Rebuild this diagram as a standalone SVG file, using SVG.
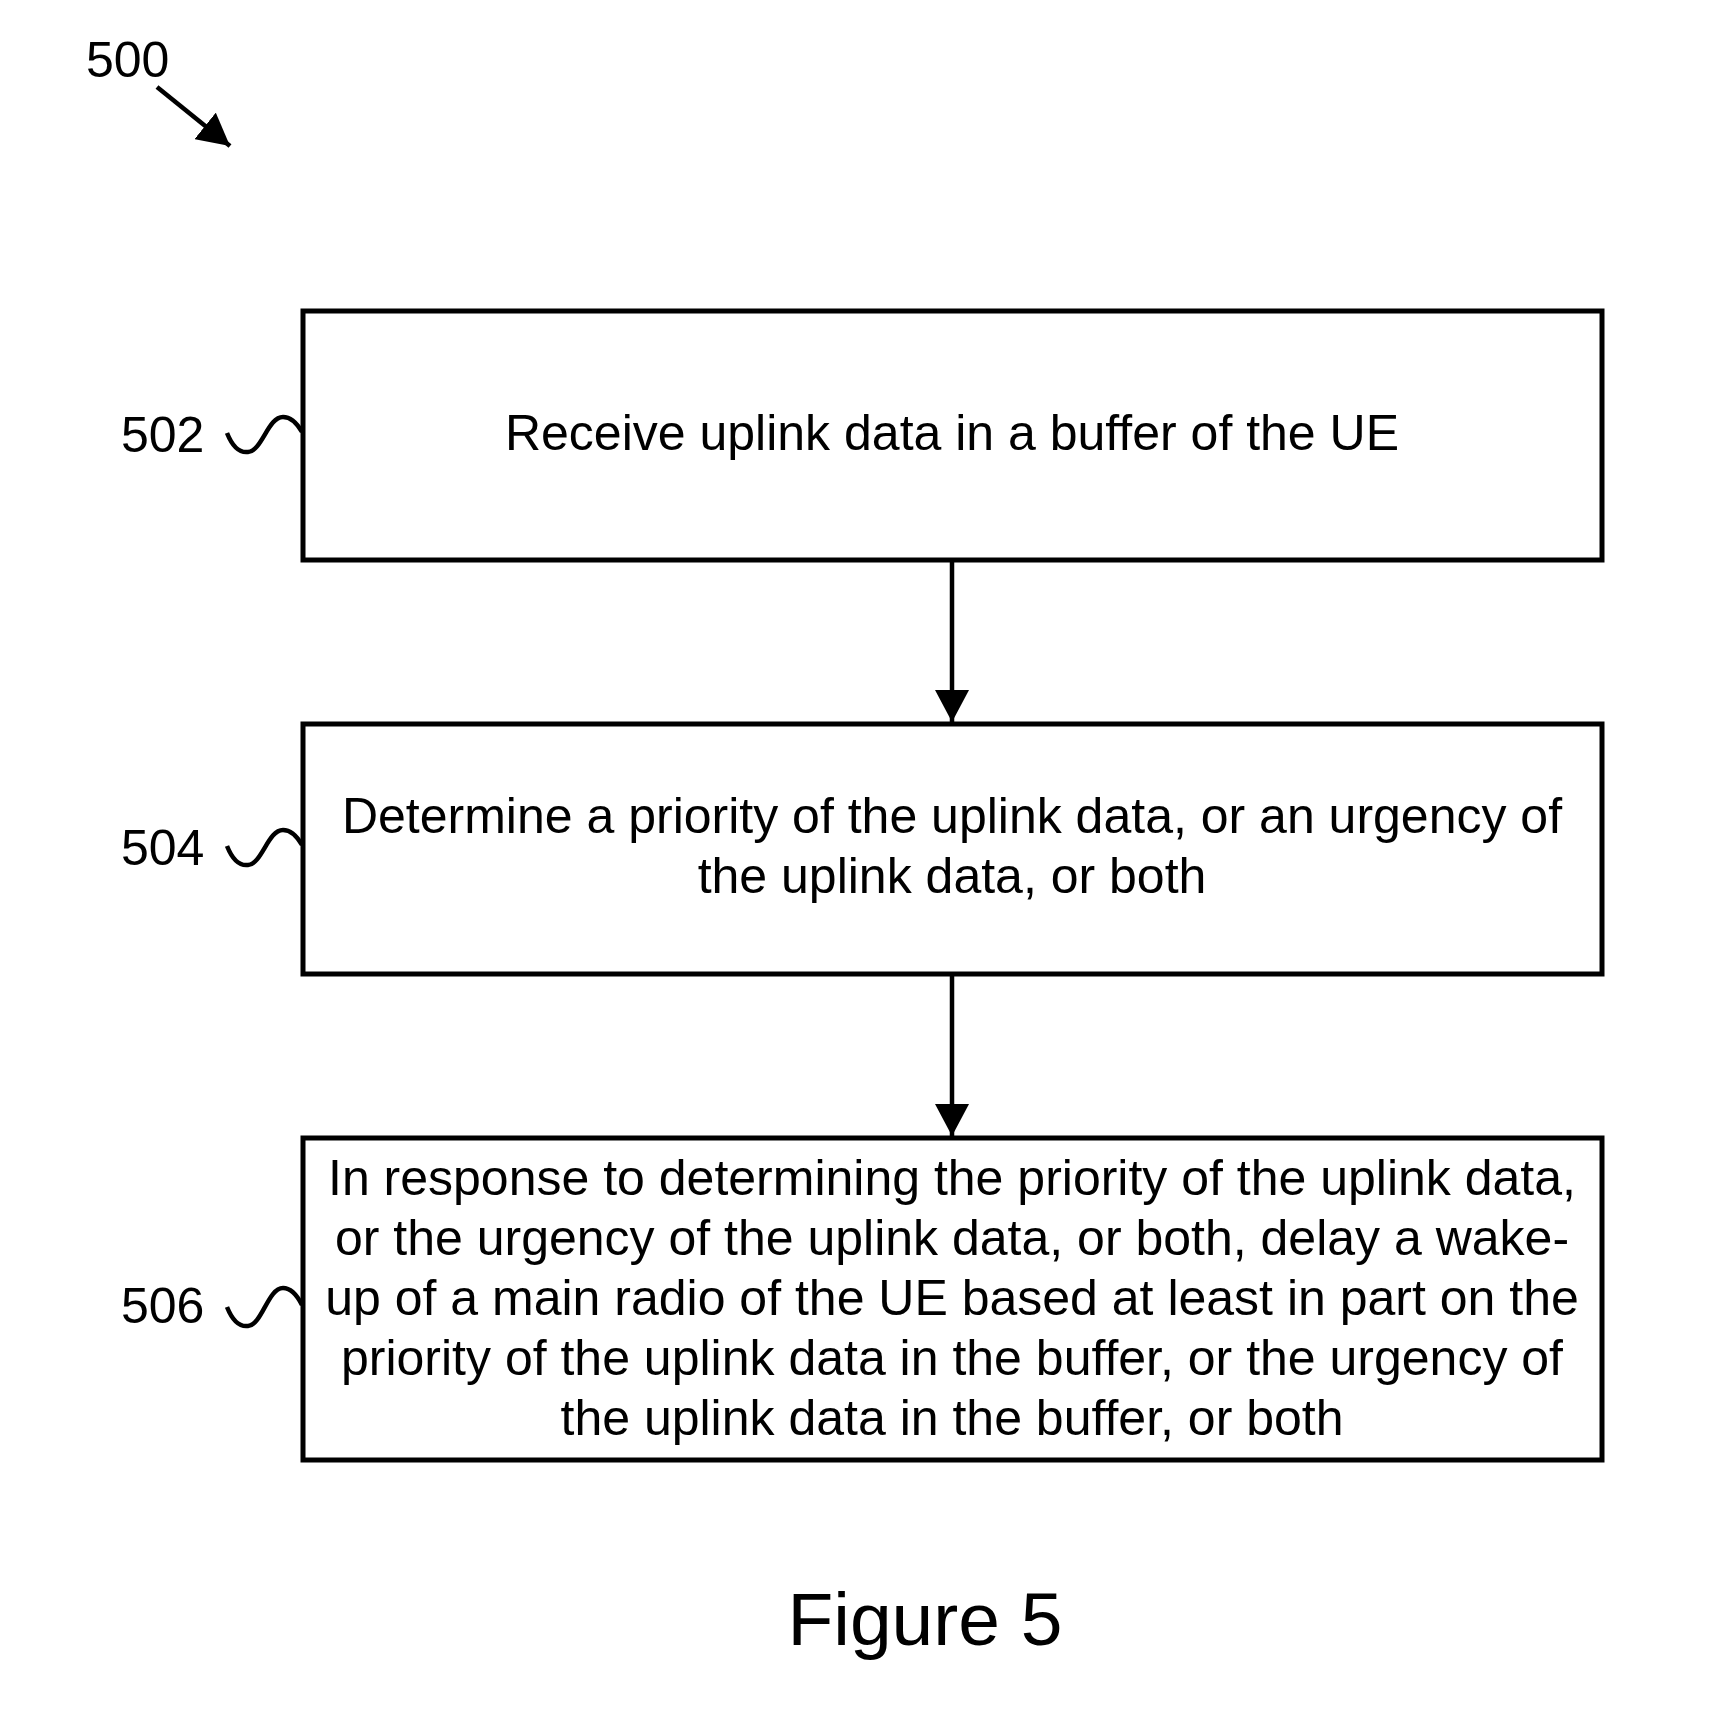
<svg xmlns="http://www.w3.org/2000/svg" width="1713" height="1722" viewBox="0 0 1713 1722">
<defs>
<style>
.box{fill:#fff;stroke:#000;stroke-width:5}
.t{font-family:"Liberation Sans",Arial,sans-serif;font-size:50px;fill:#000;text-anchor:middle}
.lbl{font-family:"Liberation Sans",Arial,sans-serif;font-size:50px;fill:#000}
.sq{fill:none;stroke:#000;stroke-width:4.5}
.ln{fill:none;stroke:#000;stroke-width:4.5}
</style>
<marker id="ah" markerUnits="userSpaceOnUse" markerWidth="34" markerHeight="34" refX="32" refY="17" orient="auto" viewBox="0 0 34 34">
<path d="M0,0 L32,17 L0,34 Z" fill="#000"/>
</marker>
</defs>
<rect width="1713" height="1722" fill="#fff"/>
<g id="ref500">
<text class="lbl" x="86" y="77" font-size="49">500</text>
<path class="ln" d="M157,87 L230,146" stroke-width="5" marker-end="url(#ah)"/>
</g>
<g id="n502">
<rect class="box" x="303" y="311" width="1299" height="249"/>
<text class="t" x="952" y="450">Receive uplink data in a buffer of the UE</text>
<text class="lbl" x="121" y="452">502</text>
<path class="sq" d="M227,433 C233,448 240,453 248,452 C262,451 268,417 283,417 C292,417 298,425 302,432"/>
</g>
<g id="n504">
<rect class="box" x="303" y="724" width="1299" height="250"/>
<text class="t" x="952" y="833">Determine a priority of the uplink data, or an urgency of</text>
<text class="t" x="952" y="893">the uplink data, or both</text>
<text class="lbl" x="121" y="865">504</text>
<path class="sq" d="M227,846 C233,861 240,866 248,865 C262,864 268,830 283,830 C292,830 298,838 302,845"/>
</g>
<g id="n506">
<rect class="box" x="303" y="1138" width="1299" height="322"/>
<text class="t" x="952" y="1195">In response to determining the priority of the uplink data,</text>
<text class="t" x="952" y="1255">or the urgency of the uplink data, or both, delay a wake-</text>
<text class="t" x="952" y="1315">up of a main radio of the UE based at least in part on the</text>
<text class="t" x="952" y="1375">priority of the uplink data in the buffer, or the urgency of</text>
<text class="t" x="952" y="1435">the uplink data in the buffer, or both</text>
<text class="lbl" x="121" y="1323">506</text>
<path class="sq" d="M227,1307 C233,1322 240,1327 248,1326 C262,1325 268,1288 283,1288 C292,1288 298,1297 302,1305"/>
</g>
<g id="connectors">
<path class="ln" d="M952,560 L952,722" marker-end="url(#ah)"/>
<path class="ln" d="M952,974 L952,1136" marker-end="url(#ah)"/>
</g>
<text x="925" y="1645" font-family="Liberation Sans, Arial, sans-serif" font-size="75" text-anchor="middle">Figure 5</text>
</svg>
